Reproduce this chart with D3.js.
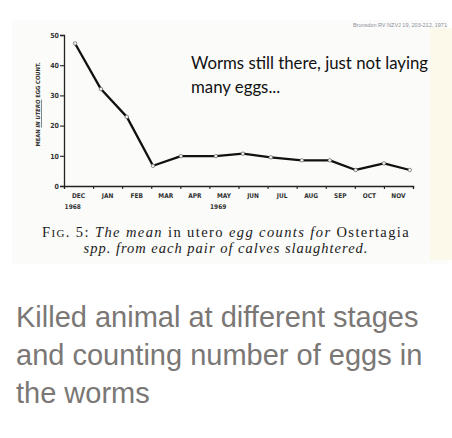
<!DOCTYPE html>
<html>
<head>
<meta charset="utf-8">
<script src="https://cdn.jsdelivr.net/npm/d3@7"></script>
<style>
  html, body { margin: 0; padding: 0; background: #fff; }
  svg { display: block; }
</style>
</head>
<body>
<div id="chart"></div>
<script>
// month labels along the x axis (Dec 1968 .. Nov 1969)
var months = ["DEC", "JAN", "FEB", "MAR", "APR", "MAY", "JUN", "JUL", "AUG", "SEP", "OCT", "NOV"];
// sampling dates, in months from the start of December 1968
var sampleMonth = [0.38, 1.27, 2.16, 3.06, 4.02, 5.22, 6.15, 7.11, 8.18, 9.14, 10.03, 11.0, 11.89];
// mean in utero egg count per pair of calves
var eggCount = [47.2, 32.1, 22.9, 6.7, 9.9, 9.9, 10.7, 9.5, 8.5, 8.5, 5.3, 7.5, 5.3];
var yTicks = [0, 10, 20, 30, 40, 50];
var years = [{ label: "1968", month: 0 }, { label: "1969", month: 5 }];

var width = 452,
  height = 438;

var svg = d3
  .select("#chart")
  .append("svg")
  .attr("width", width)
  .attr("height", height);

// scanned figure panel
svg.append("rect")
  .attr("x", 12).attr("y", 20)
  .attr("width", 436).attr("height", 244)
  .attr("fill", "#fbfbf9");
svg.append("rect")
  .attr("x", 430).attr("y", 28)
  .attr("width", 22).attr("height", 232)
  .attr("fill", "#fcf9ea");

var x = d3.scaleLinear().domain([0, 12]).range([64, 413]);
var y = d3.scaleLinear().domain([0, 50]).range([186, 35]);

var scanFont = "'DejaVu Sans Condensed', 'DejaVu Sans', sans-serif";

// y axis
var yAxis = svg.append("g")
  .attr("transform", "translate(" + x(0) + ",0)")
  .call(d3.axisLeft(y).tickValues(yTicks).tickSize(4).tickPadding(1));
yAxis.select(".domain").attr("stroke", "#222").attr("stroke-width", 1.3);
yAxis.selectAll(".tick line").attr("stroke", "#222").attr("stroke-width", 1.1);
yAxis.selectAll(".tick text")
  .attr("font-family", scanFont)
  .attr("font-size", 7)
  .attr("font-weight", "bold")
  .attr("fill", "#333");

// x axis: ticks at month boundaries, labels between them
var xAxis = svg.append("g")
  .attr("transform", "translate(0," + y(0) + ")")
  .call(d3.axisBottom(x).tickValues(d3.range(1, 13)).tickSize(3).tickFormat(""));
xAxis.select(".domain").attr("stroke", "#222").attr("stroke-width", 1.3);
xAxis.selectAll(".tick line").attr("stroke", "#222").attr("stroke-width", 1.1);

svg.append("g")
  .selectAll("text")
  .data(months)
  .enter()
  .append("text")
  .attr("x", function (d, i) { return x(i + 0.5); })
  .attr("y", y(0) + 12)
  .attr("text-anchor", "middle")
  .attr("font-family", scanFont)
  .attr("font-size", 6.5)
  .attr("font-weight", "bold")
  .attr("fill", "#333")
  .text(function (d) { return d; });

svg.append("g")
  .selectAll("text")
  .data(years)
  .enter()
  .append("text")
  .attr("x", function (d) { return x(d.month + 0.3); })
  .attr("y", y(0) + 23)
  .attr("text-anchor", "middle")
  .attr("font-family", scanFont)
  .attr("font-size", 6.5)
  .attr("font-weight", "bold")
  .attr("fill", "#333")
  .text(function (d) { return d.label; });

// y axis title
var yTitle = svg.append("text")
  .attr("transform", "translate(40," + y(27) + ") rotate(-90)")
  .attr("text-anchor", "middle")
  .attr("font-family", scanFont)
  .attr("font-size", 5.8)
  .attr("font-weight", "bold")
  .attr("fill", "#333");
yTitle.append("tspan").text("MEAN ");
yTitle.append("tspan")
  .attr("font-style", "italic")
  .attr("text-decoration", "underline")
  .text("IN UTERO");
yTitle.append("tspan").text(" EGG COUNT.");

// the series
var points = sampleMonth.map(function (m, i) {
  return { month: m, value: eggCount[i] };
});

var line = d3.line()
  .x(function (d) { return x(d.month); })
  .y(function (d) { return y(d.value); });

svg.append("path")
  .datum(points)
  .attr("d", line)
  .attr("fill", "none")
  .attr("stroke", "#111")
  .attr("stroke-width", 2.3)
  .attr("stroke-linejoin", "round");

svg.append("g")
  .selectAll("circle")
  .data(points)
  .enter()
  .append("circle")
  .attr("cx", function (d) { return x(d.month); })
  .attr("cy", function (d) { return y(d.value); })
  .attr("r", 1.8)
  .attr("fill", "#eee")
  .attr("stroke", "#555")
  .attr("stroke-width", 0.6);

// annotation on the slide
var note = svg.append("text")
  .attr("font-family", "Lato, 'Open Sans', sans-serif")
  .attr("font-size", 16.8)
  .attr("fill", "#111");
note.append("tspan").attr("x", 191).attr("y", 69).text("Worms still there, just not laying");
note.append("tspan").attr("x", 191).attr("y", 93).text("many eggs...");

svg.append("text")
  .attr("x", 447)
  .attr("y", 27)
  .attr("text-anchor", "end")
  .attr("font-family", "'Liberation Sans', sans-serif")
  .attr("font-size", 5.5)
  .attr("fill", "#8a8f99")
  .text("Brunsdon RV NZVJ 19, 203-212, 1971");

// figure caption
var caption = svg.append("text")
  .attr("text-anchor", "middle")
  .attr("font-family", "'Liberation Serif', 'DejaVu Serif', serif")
  .attr("font-size", 14.5)
  .attr("fill", "#1a1a1a");
var cap1 = caption.append("tspan")
  .attr("x", 226).attr("y", 237)
  .attr("letter-spacing", 1.4);
cap1.append("tspan").text("F");
cap1.append("tspan").attr("font-size", 11).text("IG");
cap1.append("tspan").text(". 5: ");
cap1.append("tspan").attr("font-style", "italic").text("The mean");
cap1.append("tspan").text(" in utero ");
cap1.append("tspan").attr("font-style", "italic").text("egg counts for");
cap1.append("tspan").text(" Ostertagia");
caption.append("tspan")
  .attr("x", 226).attr("y", 253)
  .attr("letter-spacing", 1)
  .attr("font-style", "italic")
  .text("spp. from each pair of calves slaughtered.");

// slide description below the figure
var desc = ["Killed animal at different stages", "and counting number of eggs in", "the worms"];
svg.append("g")
  .selectAll("text")
  .data(desc)
  .enter()
  .append("text")
  .attr("x", 16)
  .attr("y", function (d, i) { return 327 + i * 38; })
  .attr("font-family", "'Liberation Sans', Arial, sans-serif")
  .attr("font-size", 29)
  .attr("fill", "#7a7775")
  .text(function (d) { return d; });
</script>
</body>
</html>
